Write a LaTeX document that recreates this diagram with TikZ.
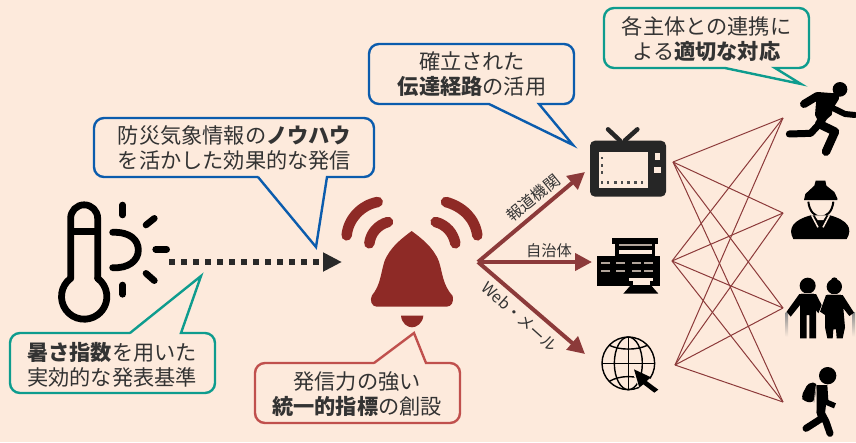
\documentclass[tikz,border=0pt]{standalone}
\usepackage{fontspec}
\setmainfont{Noto Sans CJK JP}
\usetikzlibrary{arrows.meta}
\definecolor{bgc}{HTML}{FDEADC}
\definecolor{cblue}{HTML}{0B5CAD}
\definecolor{cteal}{HTML}{0E9C8E}
\definecolor{cpink}{HTML}{C0504D}
\definecolor{cbell}{HTML}{8E2A26}
\definecolor{carrow}{HTML}{8C3A3A}
\definecolor{ctext}{HTML}{333333}
\tikzset{
  bubble/.style={line width=2.4pt,rounded corners=10pt},
  bubbletext/.style={font=\fontsize{21.2}{25}\selectfont,text=ctext,align=center,inner sep=0pt},
  routetext/.style={font=\fontsize{15.3}{17}\selectfont,text=ctext,inner sep=0pt},
  routeangled/.style={font=\fontsize{15.8}{17}\selectfont,text=ctext,inner sep=0pt},
  route/.style={draw=carrow,line width=4pt,-{Triangle[length=17pt,width=17pt]},shorten >=0pt},
  link/.style={draw=carrow,line width=1pt},
  ink/.style={draw=black,line cap=round,line join=round},
  zoomed/.style={x=0.33333pt,y=-0.33333pt}
}
\begin{document}
\begin{tikzpicture}[x=1pt,y=-1pt]
\useasboundingbox (0,0) rectangle (856,442);
\fill[bgc] (0,0) rectangle (856,442);

% --- links
\coordinate (s1) at (673,162);
\coordinate (s2) at (672,261);
\coordinate (s3) at (675,365);
\coordinate (t1) at (783,118);
\coordinate (t2) at (783,213);
\coordinate (t3) at (783,308);
\coordinate (t4) at (783,402);
\foreach \s in {s1,s2,s3}\foreach \t in {t1,t2,t3,t4}{\draw[link] (\s) -- (\t);}

% --- bubbles
\draw[bubble,draw=cblue] (258,177) [sharp corners] -- (316,247) -- (327,177) [rounded corners=10pt] -- (374,177) -- (374,118) -- (94,118) -- (94,177) -- (240,177) [sharp corners] -- (258,177);
\node[bubbletext] (b1) at (234.5,147.5) {防災気象情報の\textbf{ノウハウ}\\を活かした効果的な発信};

\draw[bubble,draw=cblue] (489,104) [sharp corners] -- (573,145) -- (539,104) [rounded corners=10pt] -- (574,104) -- (574,44) -- (369,44) -- (369,104) -- (470,104) [sharp corners] -- (489,104);
\node[bubbletext] (b2) at (472,74.5) {確立された\\\textbf{伝達経路}の活用};

\draw[bubble,draw=cteal] (725,68) [sharp corners] -- (801,84) -- (775,68) [rounded corners=10pt] -- (809,68) -- (809,8) -- (604,8) -- (604,68) -- (700,68) [sharp corners] -- (725,68);
\node[bubbletext] (b3) at (706.5,39) {各主体との連携に\\よる\textbf{適切な対応}};

\draw[bubble,draw=cteal] (130,333) [sharp corners] -- (201,276) -- (181,333) [rounded corners=10pt] -- (215,333) -- (215,393) -- (10,393) -- (10,333) -- (110,333) [sharp corners] -- (130,333);
\node[bubbletext] (b4) at (112,364.5) {\textbf{暑さ指数}を用いた\\実効的な発表基準};

\draw[bubble,draw=cpink] (374,363) [sharp corners] -- (414,333) -- (426,363) [rounded corners=10pt] -- (460,363) -- (460,423) -- (255,423) -- (255,363) -- (350,363) [sharp corners] -- (374,363);
\node[bubbletext] (b5) at (357,394.5) {発信力の強い\\\textbf{統一的指標}の創設};

% --- thermometer and sun
\begin{scope}[shift={(40,190)},zoomed]
  \draw[ink,line width=6.8pt] (92,265) -- (92,85) arc[start angle=180,end angle=360,radius=40.5] -- (173,265);
  \draw[ink,line width=6.8pt] (92,265) arc[start angle=233.4,end angle=-53.4,radius=68];
  \draw[draw=black,line width=6.8pt] (92,125) -- (173,125);
  \draw[ink,line width=6.8pt] (218,127) .. controls (270,125) and (295,150) .. (295,180) .. controls (295,212) and (265,236) .. (218,233);
  \draw[ink,line width=6.6pt] (248,45) -- (248,75);
  \draw[ink,line width=6.6pt] (318,105) -- (343,85);
  \draw[ink,line width=6.6pt] (347,178) -- (380,178);
  \draw[ink,line width=6.6pt] (318,250) -- (343,272);
  \draw[ink,line width=6.6pt] (248,285) -- (248,313);
\end{scope}

% --- dotted arrow
\coordinate (dotA) at (169,262);
\coordinate (dotB) at (342,262);
\draw[draw=ctext!80!black,line width=6pt,dash pattern=on 6pt off 6pt,-{Triangle[length=19pt,width=18pt]}] (dotA) -- (dotB);

% --- bell
\begin{scope}[shift={(320,150)},zoomed]
  \fill[cbell] (275,243) .. controls (300,262) and (340,290) .. (357,335)
     .. controls (368,370) and (368,405) .. (398,438) .. controls (402,455) and (395,470) .. (380,470)
     -- (170,470) .. controls (155,470) and (148,450) .. (156,436)
     .. controls (182,405) and (182,370) .. (193,335) .. controls (210,290) and (250,262) .. (275,243) -- cycle;
  \fill[cbell] (243,497) -- (310,497) .. controls (308,520) and (290,532) .. (276,532) .. controls (262,532) and (245,520) .. (243,497) -- cycle;
  \draw[cbell,line width=10.5pt,line cap=round] (80,256) .. controls (85,205) and (125,165) .. (173,156);
  \draw[cbell,line width=10.5pt,line cap=round] (148,280) .. controls (152,250) and (172,225) .. (204,216);
  \draw[cbell,line width=10.5pt,line cap=round] (472,256) .. controls (465,205) and (428,170) .. (378,156);
  \draw[cbell,line width=10.5pt,line cap=round] (406,280) .. controls (400,250) and (380,225) .. (347,216);
\end{scope}

% --- route arrows
\coordinate (hub) at (478,262);
\coordinate (r1) at (585,172);
\coordinate (r2) at (592,262);
\coordinate (r3) at (585,354);
\draw[route] (hub) -- (r1);
\draw[route] (hub) -- (r2);
\draw[route] (hub) -- (r3);
\node[routeangled,rotate=39] (l1) at (533,198) {報道機関};
\node[routetext] (l2) at (549,251) {自治体};
\node[routeangled,rotate=-42] (l3) at (520,317) {Web・メール};

% --- television
\begin{scope}[shift={(590,0)},zoomed]
  \draw[ink,line width=4.5pt,draw=black!85] (54,388) -- (90,422);
  \draw[ink,line width=4.5pt,draw=black!85] (142,388) -- (104,422);
  \fill[black!85,rounded corners=5pt] (0,422) rectangle (228,590);
  \fill[bgc] (28,455) rectangle (175,565);
  \fill[bgc] (192,500) rectangle (212,520);
  \fill[bgc] (195,458) rectangle (210,480);
  \foreach \x in {32,50,72,92,112,132,152}{\fill[black!70] (\x,543) rectangle (\x+8,551);}
  \foreach \y in {470,492,514}{\fill[black!70] (32,\y) rectangle (40,\y+8);}
\end{scope}

% --- terminal
\begin{scope}[shift={(590,221)},zoomed]
  \fill[black] (65,52) rectangle (205,70);
  \fill[black] (75,70) rectangle (195,110);
  \fill[black] (22,105) rectangle (210,195);
  \fill[bgc!70!black] (88,68) rectangle (187,76);
  \fill[bgc] (88,87) rectangle (187,100);
  \foreach \y in {126,150}{\foreach \x in {33,78,125,163}{\fill[bgc!70!black] (\x,\y-3) rectangle (\x+27,\y+3);}}
  \fill[bgc] (118,170) rectangle (190,180);
  \fill[bgc] (128,180) rectangle (180,193);
  \fill[black] (135,193) rectangle (172,205);
  \fill[black] (120,195) -- (185,195) -- (205,218) -- (100,218) -- cycle;
\end{scope}

% --- globe
\begin{scope}[shift={(590,221)},zoomed]
  \draw[black,line width=1.4pt] (115,427) circle[radius=79];
  \draw[black,line width=1.4pt] (115,427) ellipse[x radius=42,y radius=79];
  \draw[black,line width=1.4pt] (115,348) -- (115,506);
  \draw[black,line width=1.4pt] (36,427) -- (194,427);
  \draw[black,line width=1.4pt] (58,373) .. controls (90,388) and (140,388) .. (172,373);
  \draw[black,line width=1.4pt] (58,481) .. controls (90,462) and (140,462) .. (172,481);
  \fill[bgc] (120,440) -- (178,470) -- (205,505) -- (190,520) -- (150,505) -- cycle;
  \fill[black] (132,445) -- (183,469) -- (170,480) -- (205,506) -- (193,515) -- (160,490) -- (148,500) -- cycle;
\end{scope}

% --- runner
\begin{scope}[shift={(590,0)},zoomed]
  \fill[black] (750,268) circle[radius=22];
  \draw[ink,line width=8pt] (642,312) -- (682,288) -- (735,292);
  \draw[ink,line width=8.5pt] (735,292) -- (705,340) -- (688,372);
  \draw[ink,line width=6pt] (720,320) -- (765,342) -- (795,345);
  \draw[ink,line width=8.5pt] (688,372) -- (735,395) -- (708,455);
  \draw[ink,line width=7pt] (688,372) -- (662,400) -- (598,402);
  \fill[black] (680,285) -- (735,285) -- (725,345) -- (690,375) -- (675,345) -- cycle;
\end{scope}

% --- worker
\begin{scope}[shift={(780,170)},zoomed]
  \fill[black] (72,90) -- (76,72) -- (103,47) -- (107,32) -- (136,32) -- (139,47) -- (163,66) -- (172,85) -- (172,90) -- cycle;
  \draw[black,line width=2pt] (85,95) .. controls (88,125) and (105,140) .. (122,140) .. controls (140,140) and (157,125) .. (160,95);
  \fill[black] (40,207) .. controls (22,175) and (40,150) .. (92,136) -- (150,136) .. controls (202,150) and (220,175) .. (200,207) -- cycle;
  \draw[bgc,line width=1.5pt] (95,136) -- (114,172);
  \draw[bgc,line width=1.5pt] (148,136) -- (129,172);
  \fill[bgc] (104,136) -- (139,136) -- (130,150) -- (113,150) -- cycle;
\end{scope}

% --- elderly pair
\begin{scope}[shift={(780,270)},zoomed]
  \shade[top color=black!45,bottom color=bgc] (17,128) rectangle (24,200);
  \shade[top color=black!45,bottom color=bgc] (218,128) rectangle (225,200);
  \fill[black] (83,47) circle[radius=24];
  \fill[black] (163,50) circle[radius=23];
  \fill[black] (163,32) circle[radius=10];
  \fill[black] (58,72) -- (108,72) -- (125,105) -- (115,130) -- (108,120) -- (108,205) -- (88,205) -- (88,135) -- (80,135) -- (80,205) -- (60,205) -- (60,105) -- (32,140) -- (20,125) -- cycle;
  \fill[black] (138,75) -- (188,75) -- (222,128) -- (208,138) -- (190,115) -- (195,172) -- (188,205) -- (170,205) -- (168,178) -- (160,178) -- (158,205) -- (142,205) -- (135,172) -- (135,135) -- (120,125) -- cycle;
  \draw[bgc!75!black,line width=0.9pt] (62,70) -- (102,70);
  \draw[bgc!75!black,line width=0.9pt] (142,72) -- (184,72);
\end{scope}

% --- walker
\begin{scope}[shift={(790,360)},zoomed]
  \fill[black] (113,47) circle[radius=26];
  \fill[black,rounded corners=4pt] (55,68) -- (82,68) -- (72,128) -- (42,125) -- (33,110) -- cycle;
  \fill[black] (80,75) -- (112,75) -- (115,120) -- (138,130) -- (132,145) -- (108,135) -- (105,160) -- (80,160) -- cycle;
  \draw[ink,line width=7pt] (90,155) -- (95,175) -- (48,205);
  \draw[ink,line width=7pt] (92,155) -- (108,185) -- (120,220);
  \draw[bgc!70!black,line width=0.8pt] (78,78) -- (72,128);
\end{scope}
\end{tikzpicture}
\end{document}
